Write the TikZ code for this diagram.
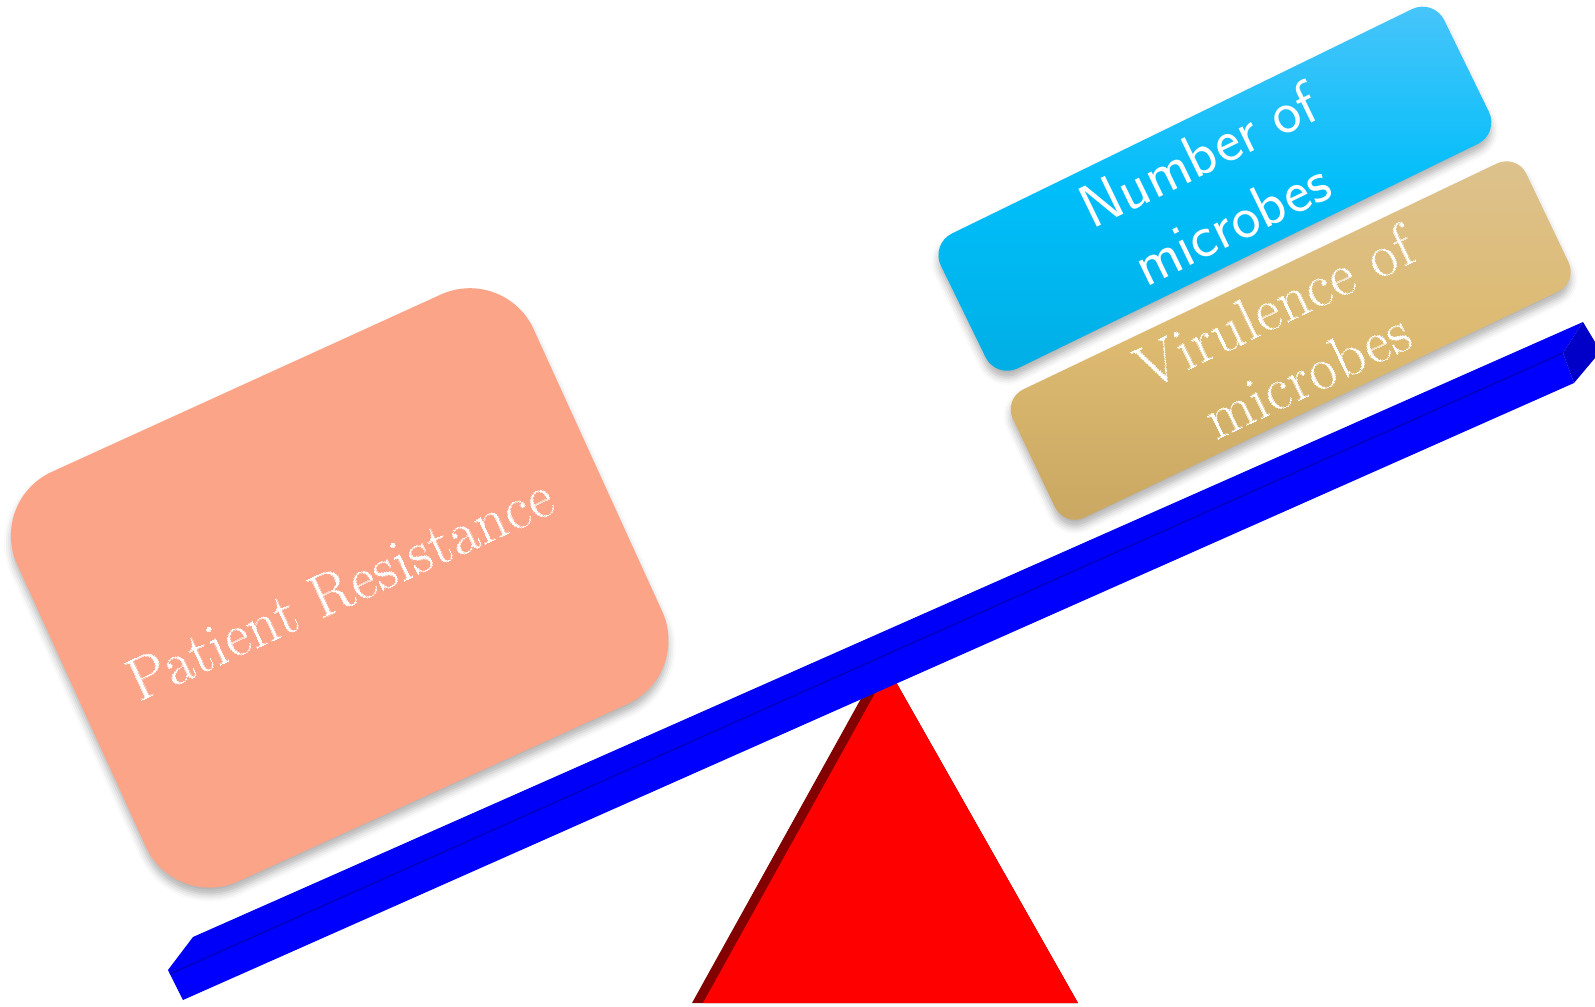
\documentclass[tikz,border=0pt]{standalone}
\usepackage[T1,TU]{fontenc}
\usepackage{fontspec}
\setmainfont{Carlito}
\usepackage{tikz}
\usetikzlibrary{shadows.blur}

\definecolor{salmon}{RGB}{252,164,135}
\definecolor{skytop}{RGB}{74,197,250}
\definecolor{skymid}{RGB}{0,190,250}
\definecolor{skybot}{RGB}{0,174,228}
\definecolor{tantop}{RGB}{221,194,142}
\definecolor{tanmid}{RGB}{221,186,112}
\definecolor{tanbot}{RGB}{202,167,98}
\definecolor{beamblue}{RGB}{0,0,248}
\definecolor{capblue}{RGB}{0,0,200}
\definecolor{pivotdark}{RGB}{130,0,0}
\newcommand{\labelfont}{\fontencoding{T1}\fontfamily{lmss}\fontsize{18.5}{21.5}\selectfont}

\begin{document}
\begin{tikzpicture}[every node/.style={rectangle,inner sep=0pt,align=center,text=white,font=\labelfont},
	weight/.style={blur shadow={shadow xshift=0pt,shadow yshift=-2pt,shadow blur radius=2pt,shadow opacity=30}}]
		\useasboundingbox (0,0) rectangle (15.95,10.06);

		%pivot
		\fill[pivotdark] (6.92,0.03) -- (8.83,3.47) -- (10.78,0.03) -- cycle;
		\fill[red] (7.03,0.03) -- (8.885,3.37) -- (10.78,0.03) -- cycle;

		%beam
		\fill[beamblue] (1.68,0.36) -- (1.93,0.69) -- (15.83,6.84) -- (15.63,6.53) -- (1.70,0.32) -- cycle;
		\fill[blue] (1.70,0.32) -- (15.63,6.53) -- (15.74,6.23) -- (1.83,0.06) -- cycle;
		\fill[capblue] (15.63,6.53) -- (15.83,6.84) -- (15.95,6.64) -- (15.95,6.48) -- (15.74,6.23) -- cycle;
		\draw[blue!75!black,line width=0.4pt] (1.70,0.32) -- (15.63,6.53);

		%left weight
		\node[weight,fill=salmon,rounded corners=7mm,minimum width=5.675cm,minimum height=4.5cm,rotate=24.5] (resist) at (3.397,4.181) {Patient Resistance};

		%right weights
		\node[weight,top color=skytop,bottom color=skybot,middle color=skymid,rounded corners=2.4mm,minimum width=5.6cm,minimum height=1.5cm,rotate=26,font=\fontencoding{OT1}\fontfamily{cmss}\fontsize{18.5}{21.5}\selectfont] (number) at (12.149,8.173) {Number of\\microbes};
		\node[weight,top color=tantop,bottom color=tanbot,middle color=tanmid,rounded corners=2.2mm,minimum width=5.69cm,minimum height=1.42cm,rotate=25.5] (virulence) at (12.907,6.655) {Virulence of\\microbes};
\end{tikzpicture}
\end{document}
